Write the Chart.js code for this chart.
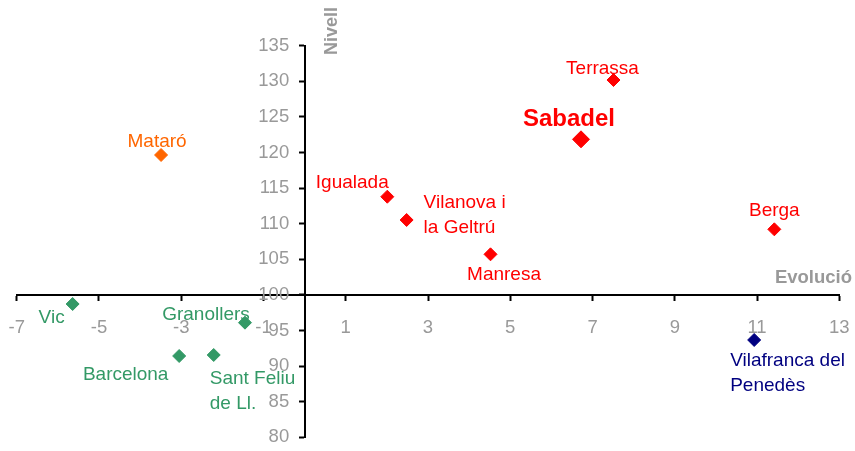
<!DOCTYPE html>
<html>
<head>
<meta charset="utf-8">
<script src="https://cdn.jsdelivr.net/npm/chart.js@4"></script>
<style>
  html, body { margin: 0; padding: 0; background: #fff; }
  #wrap { width: 855px; height: 451px; position: relative; }
</style>
</head>
<body>
<div id="wrap"><canvas id="scatterChart"></canvas></div>
<script>
const cities = ['Mataró', 'Terrassa', 'Sabadel', 'Igualada', 'Vilanova i la Geltrú', 'Manresa', 'Berga',
  'Vilafranca del Penedès', 'Vic', 'Granollers', 'Barcelona', 'Sant Feliu de Ll.'];
const cityLines = [['Mataró'], ['Terrassa'], ['Sabadel'], ['Igualada'], ['Vilanova i', 'la Geltrú'], ['Manresa'], ['Berga'],
  ['Vilafranca del', 'Penedès'], ['Vic'], ['Granollers'], ['Barcelona'], ['Sant Feliu', 'de Ll.']];
const evolucio = [-3.49, 7.51, 6.72, 2.01, 2.48, 4.52, 11.42, 10.93, -5.64, -1.45, -3.05, -2.21];
const nivell = [119.65, 130.18, 121.85, 113.79, 110.52, 105.70, 109.21, 93.67, 98.72, 96.10, 91.42, 91.56];
const grup = ['maresme', 'centre', 'sabadel', 'centre', 'centre', 'centre', 'centre',
  'penedes', 'metro', 'metro', 'metro', 'metro'];

const xTicks = [-7, -5, -3, -1, 1, 3, 5, 7, 9, 11, 13];
const yTicks = [80, 85, 90, 95, 100, 105, 110, 115, 120, 125, 130, 135];

const groupStyle = {
  maresme: { color: '#ff6600', radius: 6.5 },
  centre: { color: '#ff0000', radius: 6.5 },
  sabadel: { color: '#ff0000', radius: 8.5 },
  penedes: { color: '#000080', radius: 6.5 },
  metro: { color: '#339966', radius: 6.5 },
};

const labelPlacement = {
  'Mataró': { dx: -4, dy: -8, align: 'center' },
  'Terrassa': { dx: -11, dy: -6, align: 'center' },
  'Sabadel': { dx: -12, dy: -13, align: 'center', font: 'bold 24px "Liberation Sans", Arial, sans-serif' },
  'Igualada': { dx: -35, dy: -9, align: 'center' },
  'Vilanova i la Geltrú': { dx: 17, dy: -12, align: 'left' },
  'Manresa': { dx: 13.5, dy: 26, align: 'center' },
  'Berga': { dx: 0, dy: -13, align: 'center' },
  'Vilafranca del Penedès': { dx: -24, dy: 26, align: 'left' },
  'Vic': { dx: -21, dy: 19, align: 'center' },
  'Granollers': { dx: -39, dy: -3, align: 'center' },
  'Barcelona': { dx: -53.5, dy: 24, align: 'center' },
  'Sant Feliu de Ll.': { dx: -4, dy: 29, align: 'left' },
};

const labelFont = '19px "Liberation Sans", Arial, sans-serif';
const lineGap = 25;

function buildDatasets() {
  return Object.keys(groupStyle).map((key) => {
    const style = groupStyle[key];
    const idx = cities.map((c, i) => i).filter((i) => grup[i] === key);
    return {
      label: key,
      data: idx.map((i) => ({ x: evolucio[i], y: nivell[i], city: i })),
      pointStyle: 'rectRot',
      pointRadius: style.radius,
      pointHoverRadius: style.radius,
      backgroundColor: style.color,
      borderColor: style.color,
      borderWidth: 1,
    };
  });
}

const cityLabels = {
  id: 'cityLabels',
  afterDatasetsDraw(chart) {
    const ctx = chart.ctx;
    ctx.save();
    chart.data.datasets.forEach((ds, d) => {
      const meta = chart.getDatasetMeta(d);
      meta.data.forEach((pt, j) => {
        const i = ds.data[j].city;
        const place = labelPlacement[cities[i]];
        ctx.fillStyle = groupStyle[grup[i]].color;
        ctx.font = place.font || labelFont;
        ctx.textAlign = place.align;
        ctx.textBaseline = 'alphabetic';
        cityLines[i].forEach((line, k) => {
          ctx.fillText(line, pt.x + place.dx, pt.y + place.dy + k * lineGap);
        });
      });
    });
    ctx.restore();
  },
};

const axisTitles = {
  id: 'axisTitles',
  afterDraw(chart) {
    const ctx = chart.ctx;
    const x0 = chart.scales.x.getPixelForValue(0);
    const y0 = chart.scales.y.getPixelForValue(100);
    ctx.save();
    ctx.fillStyle = '#999999';
    ctx.font = 'bold 18.5px "Liberation Sans", Arial, sans-serif';
    ctx.textAlign = 'right';
    ctx.textBaseline = 'alphabetic';
    ctx.fillText('Evolució', chart.width - 3, y0 - 12);
    ctx.translate(x0 + 27, 31);
    ctx.rotate(-Math.PI / 2);
    ctx.font = 'bold 18px "Liberation Sans", Arial, sans-serif';
    ctx.textAlign = 'center';
    ctx.textBaseline = 'middle';
    ctx.fillText('Nivell', 0, 0);
    ctx.restore();
  },
};

// centred axes should not eat layout space
function flatten(scale, horizontal) {
  if (horizontal) scale.height = 0; else scale.width = 0;
  scale.paddingLeft = scale.paddingRight = scale.paddingTop = scale.paddingBottom = 0;
}

function initScatter() {
  const ctx = document.getElementById('scatterChart');
  new Chart(ctx, {
    type: 'scatter',
    data: { datasets: buildDatasets() },
    options: {
      responsive: true,
      maintainAspectRatio: false,
      animation: false,
      layout: { padding: { left: 16.7, right: 15.7, top: 45.7, bottom: 13.7 } },
      plugins: { legend: { display: false }, tooltip: { enabled: false } },
      scales: {
        x: {
          type: 'linear',
          position: { y: 100 },
          min: xTicks[0],
          max: xTicks[xTicks.length - 1],
          afterFit: (s) => flatten(s, true),
          afterBuildTicks: (s) => { s.ticks = xTicks.map((v) => ({ value: v })); },
          border: { display: true, color: '#000', width: 2 },
          grid: { drawOnChartArea: false, drawTicks: true, tickLength: 5, tickWidth: 2, tickColor: '#000' },
          ticks: { color: '#999999', padding: 17, maxRotation: 0, autoSkip: false,
            font: { family: '"Liberation Sans", Arial, sans-serif', size: 18.5 } },
        },
        y: {
          type: 'linear',
          position: { x: 0 },
          min: yTicks[0],
          max: yTicks[yTicks.length - 1],
          afterFit: (s) => flatten(s, false),
          afterBuildTicks: (s) => { s.ticks = yTicks.map((v) => ({ value: v })); },
          border: { display: true, color: '#000', width: 2 },
          grid: { drawOnChartArea: false, drawTicks: true, tickLength: 5, tickWidth: 2, tickColor: '#000' },
          ticks: { color: '#999999', autoSkip: false,
            // labels sit on the axis pixel here, so pad them off it with trailing spaces
            callback: (v) => v + '   ',
            font: { family: '"Liberation Sans", Arial, sans-serif', size: 18.5 } },
        },
      },
    },
    plugins: [cityLabels, axisTitles],
  });
}

window.addEventListener('DOMContentLoaded', () => {
  initScatter();
});
</script>
</body>
</html>
